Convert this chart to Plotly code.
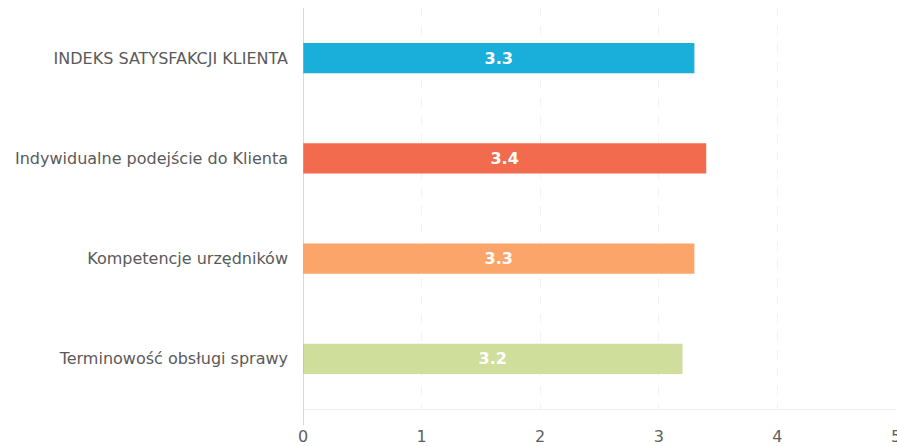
import plotly.graph_objects as go

# Satisfaction scores per category (scale 0-5)
categories = [
    "INDEKS SATYSFAKCJI KLIENTA",
    "Indywidualne podejście do Klienta",
    "Kompetencje urzędników",
    "Terminowość obsługi sprawy",
]
scores = [3.3, 3.4, 3.3, 3.2]
bar_colors = ["#1AAEDB", "#F26B4F", "#FCA56B", "#CFDE9B"]
x_ticks = [0, 1, 2, 3, 4, 5]

fig = go.Figure(
    go.Bar(
        x=scores,
        y=categories,
        orientation="h",
        marker=dict(color=bar_colors, line=dict(width=0)),
        text=[f"{v:.1f}" for v in scores],
        textposition="inside",
        insidetextanchor="middle",
        textfont=dict(family="DejaVu Sans", size=16, color="white", weight="bold"),
        width=0.3,
        hoverinfo="skip",
    )
)

# Vertical axis line at zero, extending slightly below the plot area
fig.add_shape(
    type="line", xref="x", yref="paper",
    x0=0, x1=0, y0=-0.04, y1=1,
    line=dict(color="#B4B4B4", width=1),
)

fig.update_layout(
    width=897,
    height=446,
    margin=dict(l=303, r=1, t=8, b=37),
    paper_bgcolor="white",
    plot_bgcolor="white",
    showlegend=False,
    font=dict(family="DejaVu Sans", color="#5A5A5A"),
    xaxis=dict(
        range=[0, 5],
        tickvals=x_ticks,
        ticktext=[str(t) for t in x_ticks],
        showgrid=True,
        gridcolor="#F2F2F2",
        griddash="dash",
        gridwidth=1,
        zeroline=False,
        showline=True,
        linecolor="#EFEFEF",
        linewidth=1,
        ticks="",
        ticklabelstandoff=13,
        ticklabeloverflow="allow",
        automargin=False,
        tickfont=dict(family="DejaVu Sans", size=16, color="#606060"),
    ),
    yaxis=dict(
        autorange="reversed",
        showgrid=False,
        zeroline=False,
        showline=False,
        ticks="",
        ticklabelstandoff=14,
        automargin=False,
        tickfont=dict(family="DejaVu Sans", size=16, color="#5A5A5A"),
    ),
)

fig.write_html("out.html")
